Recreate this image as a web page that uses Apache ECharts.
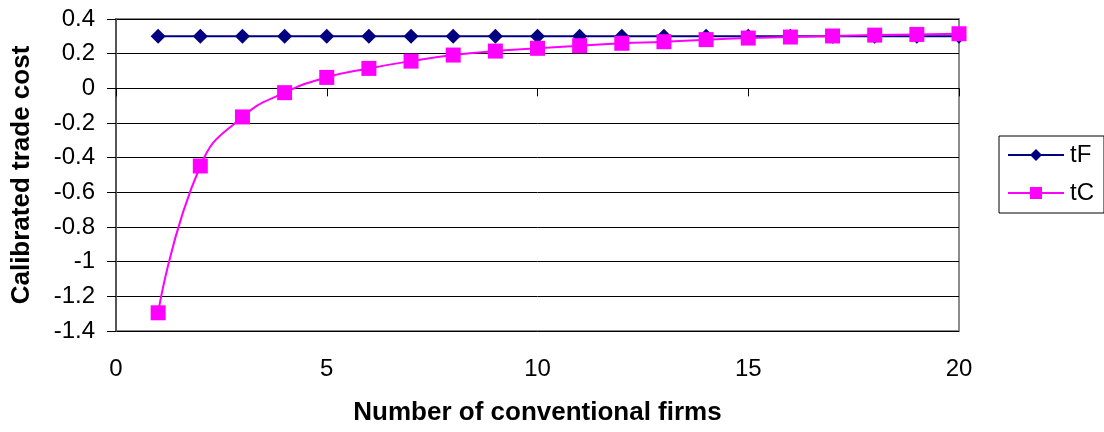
<!DOCTYPE html>
<html><head><meta charset="utf-8">
<script src="https://cdn.jsdelivr.net/npm/echarts@6/dist/echarts.min.js"></script>
<style>html,body{margin:0;padding:0;background:#fff}#c{width:1104px;height:432px}</style>
</head><body><div id="c"></div>
<script>
var firms = [1,2,3,4,5,6,7,8,9,10,11,12,13,14,15,16,17,18,19,20];
var tF = [0.30,0.30,0.30,0.30,0.30,0.30,0.30,0.30,0.30,0.30,0.30,0.30,0.30,0.30,0.30,0.30,0.30,0.30,0.30,0.30];
var tC = [-1.295,-0.448,-0.165,-0.025,0.063,0.115,0.157,0.192,0.215,0.231,0.246,0.26,0.269,0.281,0.29,0.296,0.302,0.307,0.311,0.315];
var seriesNames = ['tF','tC'];
var xTitle = 'Number of conventional firms';
var yTitle = 'Calibrated trade cost';

function pairs(v){ return firms.map(function(x,i){ return [x, v[i]]; }); }
var FONT = 'Liberation Sans, Arial, sans-serif';
var chart = echarts.init(document.getElementById('c'));
chart.setOption({
  animation:false,
  backgroundColor:'#fff',
  grid:{left:116,right:145,top:19,bottom:101,show:true,borderColor:'#8c8c8c',borderWidth:2,backgroundColor:'transparent'},
  legend:{
    left:999, top:136, orient:'vertical', itemWidth:56, itemHeight:15, itemGap:14,
    padding:[7,10,8,8],
    borderColor:'#000', borderWidth:1, borderRadius:0,
    textStyle:{fontFamily:FONT,fontSize:24,color:'#000',padding:[0,0,0,1]},
    data:seriesNames
  },
  xAxis:[{
    type:'value', min:0, max:20, interval:5,
    axisLine:{show:true,onZero:true,lineStyle:{color:'#000',width:1}},
    axisTick:{show:true,inside:false,length:8,lineStyle:{color:'#000'}},
    axisLabel:{show:false},
    splitLine:{show:false}
  },{
    type:'value', min:0, max:20, interval:5, position:'bottom',
    axisLine:{show:false,onZero:false},
    axisTick:{show:false},
    axisLabel:{margin:26,fontFamily:FONT,fontSize:24,color:'#000'},
    splitLine:{show:false},
    name:xTitle, nameLocation:'middle', nameGap:69,
    nameTextStyle:{fontFamily:FONT,fontSize:26,fontWeight:'bold',color:'#000'}
  }],
  yAxis:{
    type:'value', min:-1.4, max:0.4, interval:0.2,
    axisLine:{show:true,lineStyle:{color:'#555',width:2}},
    axisTick:{show:true,inside:false,length:9,lineStyle:{color:'#000'}},
    axisLabel:{margin:21,fontFamily:FONT,fontSize:24,color:'#000'},
    splitLine:{show:true,lineStyle:{color:'#000',width:1}},
    name:yTitle, nameLocation:'middle', nameGap:81,
    nameTextStyle:{fontFamily:FONT,fontSize:26,fontWeight:'bold',color:'#000'}
  },
  series:[{
    name:seriesNames[0], type:'line', xAxisIndex:0, data:pairs(tF),
    symbol:'diamond', symbolSize:15, showAllSymbol:true,
    lineStyle:{color:'#000080',width:2}, itemStyle:{color:'#000080'}, z:2
  },{
    name:seriesNames[1], type:'line', xAxisIndex:0, data:pairs(tC),
    symbol:'rect', symbolSize:15, smooth:0.5, showAllSymbol:true,
    lineStyle:{color:'#ff00ff',width:2}, itemStyle:{color:'#ff00ff'}, z:3
  }]
});
</script></body></html>
